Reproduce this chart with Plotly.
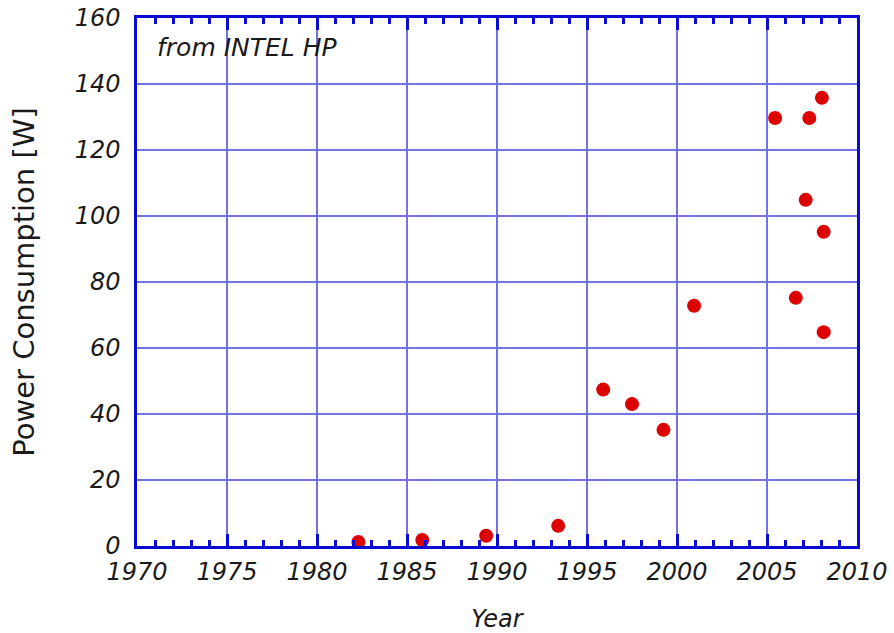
import plotly.graph_objects as go

years = [1982.3, 1985.85, 1989.4, 1993.4, 1995.9, 1997.5, 1999.25, 2000.95,
         2005.45, 2007.35, 2008.05, 2007.15, 2008.15, 2006.6, 2008.15]
power = [1.2, 1.8, 3.1, 6.1, 47.4, 43.0, 35.2, 72.8,
         129.7, 129.7, 135.8, 104.9, 95.2, 75.2, 64.8]

x_ticks = [1970, 1975, 1980, 1985, 1990, 1995, 2000, 2005, 2010]
y_ticks = [0, 20, 40, 60, 80, 100, 120, 140, 160]

FONT = "DejaVu Sans"
AXIS = "#0a0ad2"
GRID = "#7272e4"
TXT = "#1a1a1a"

fig = go.Figure()
fig.add_trace(go.Scatter(
    x=years, y=power, mode="markers",
    marker=dict(color="#dd0000", size=14, line=dict(width=0)),
    showlegend=False,
))

fig.update_layout(
    width=894, height=633,
    margin=dict(l=137, r=37, t=18, b=87),
    paper_bgcolor="white", plot_bgcolor="white",
    font=dict(family=FONT, color=TXT),
    xaxis=dict(
        range=[1970, 2010], tickvals=x_ticks, ticktext=[str(v) for v in x_ticks],
        automargin=False,
        showgrid=True, gridcolor=GRID, gridwidth=2,
        showline=True, linecolor=AXIS, linewidth=2.5, mirror="allticks",
        ticks="inside", ticklen=12, tickwidth=2.5, tickcolor=AXIS,
        minor=dict(dtick=1, ticks="inside", ticklen=6, tickwidth=2.5,
                   tickcolor=AXIS, showgrid=False),
        ticklabelstandoff=2,
        tickfont=dict(family=FONT, size=24, style="italic", color=TXT),
        zeroline=False,
        title=dict(text="Year", font=dict(family=FONT, size=24, style="italic",
                                          color=TXT), standoff=30),
    ),
    yaxis=dict(
        range=[0, 160], tickvals=y_ticks, ticktext=[str(v) for v in y_ticks],
        automargin=False,
        showgrid=True, gridcolor=GRID, gridwidth=2,
        showline=True, linecolor=AXIS, linewidth=2.5, mirror=True,
        ticks="", ticklabelstandoff=9,
        tickfont=dict(family=FONT, size=24, style="italic", color=TXT),
        zeroline=False,
        title=dict(text="Power Consumption [W]",
                   font=dict(family=FONT, size=29, color=TXT), standoff=32),
    ),
    annotations=[dict(
        text="from INTEL HP", xref="x", yref="y", x=1971.0, y=151,
        xanchor="left", yanchor="middle", showarrow=False,
        font=dict(family=FONT, size=25, style="italic", color=TXT),
    )],
)

fig.write_html("out.html")
